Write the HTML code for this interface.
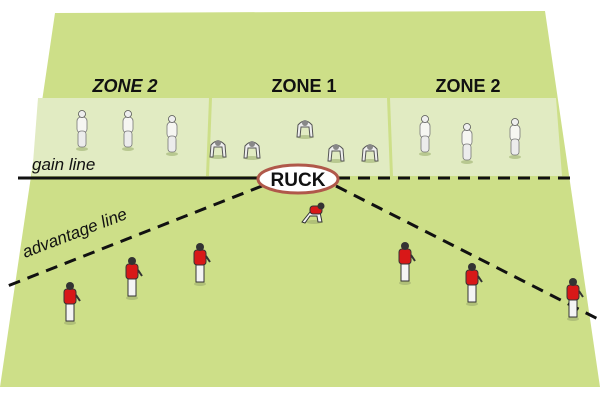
<!DOCTYPE html>
<html><head><style>body{margin:0;background:#fff}svg{display:block}</style></head><body>
<svg width="600" height="400" viewBox="0 0 600 400" xmlns="http://www.w3.org/2000/svg" font-family="Liberation Sans, sans-serif">
<defs>
<g id="w"><ellipse cx="0" cy="24" rx="6" ry="2" fill="#b8c890"/><rect x="-5" y="-8" width="10" height="16" rx="4" fill="#f6f6f2" stroke="#777" stroke-width="0.8"/><rect x="-4" y="6" width="8" height="16" rx="3" fill="#ececec" stroke="#777" stroke-width="0.8"/><circle cx="0" cy="-11" r="3.5" fill="#eee" stroke="#555" stroke-width="0.8"/></g>
<g id="c"><ellipse cx="0" cy="10" rx="8" ry="2" fill="#b8c890"/><path d="M-8 10 L-7 -2 Q0 -10 7 -2 L8 10 L5 10 L4 0 L-4 0 L-5 10Z" fill="#eee" stroke="#555" stroke-width="1"/><circle cx="0" cy="-4" r="3" fill="#888"/></g>
<g id="r"><ellipse cx="0" cy="26" rx="6" ry="2" fill="#b0c078"/><rect x="-4" y="6" width="8" height="18" fill="#f4f4f4" stroke="#333" stroke-width="1"/><rect x="-6" y="-8" width="12" height="15" rx="3" fill="#d81818" stroke="#333" stroke-width="1"/><line x1="6" y1="-2" x2="10" y2="4" stroke="#333" stroke-width="2"/><circle cx="0" cy="-11" r="4" fill="#333"/></g>
</defs>
<polygon points="55,13 545,11 600,387 0,387" fill="#cddf88"/>
<polygon points="38,98 209,98 206,176 32,176" fill="#e1ebc2"/>
<polygon points="212,98 387,98 390,176 209,176" fill="#e1ebc2"/>
<polygon points="390,98 556,98 562,176 393,176" fill="#e1ebc2"/>
<g font-weight="bold" font-size="18" fill="#111" text-anchor="middle">
<text x="125" y="92" font-style="italic">ZONE 2</text>
<text x="304" y="92">ZONE 1</text>
<text x="468" y="92">ZONE 2</text>
</g>
<text x="32" y="170" font-size="17" font-style="italic" fill="#111">gain line</text>
<text x="0" y="0" font-size="17" font-style="italic" fill="#111" transform="translate(25,258) rotate(-21)">advantage line</text>
<line x1="18" y1="178" x2="262" y2="178" stroke="#111" stroke-width="3"/>
<line x1="338" y1="178" x2="578" y2="178" stroke="#111" stroke-width="3" stroke-dasharray="12,8"/>
<line x1="262" y1="186" x2="5" y2="287" stroke="#111" stroke-width="3" stroke-dasharray="12,8"/>
<line x1="336" y1="186" x2="600" y2="320" stroke="#111" stroke-width="3" stroke-dasharray="12,8"/>
<ellipse cx="298" cy="179" rx="40" ry="14" fill="#fff" stroke="#b0584a" stroke-width="3"/>
<text x="298" y="186" font-size="19" font-weight="bold" text-anchor="middle" fill="#111">RUCK</text>
<use href="#w" x="82" y="125"/><use href="#w" x="128" y="125"/><use href="#w" x="172" y="130"/>
<use href="#w" x="425" y="130"/><use href="#w" x="467" y="138"/><use href="#w" x="515" y="133"/>
<use href="#c" x="218" y="147"/><use href="#c" x="252" y="148"/><use href="#c" x="305" y="127"/><use href="#c" x="336" y="151"/><use href="#c" x="370" y="151"/>
<g transform="translate(314,214)"><ellipse cx="0" cy="8" rx="8" ry="2" fill="#b0c078"/><path d="M-12 8 L-4 -2 L6 -2 L8 8 L4 8 L3 2 L-4 2 L-9 9Z" fill="#f4f4f4" stroke="#333"/><rect x="-4" y="-8" width="12" height="8" rx="3" fill="#d81818" stroke="#333"/><circle cx="7" cy="-8" r="3.5" fill="#333"/></g>
<use href="#r" x="70" y="297"/><use href="#r" x="132" y="272"/><use href="#r" x="200" y="258"/>
<use href="#r" x="405" y="257"/><use href="#r" x="472" y="278"/><use href="#r" x="573" y="293"/>
</svg>
</body></html>
